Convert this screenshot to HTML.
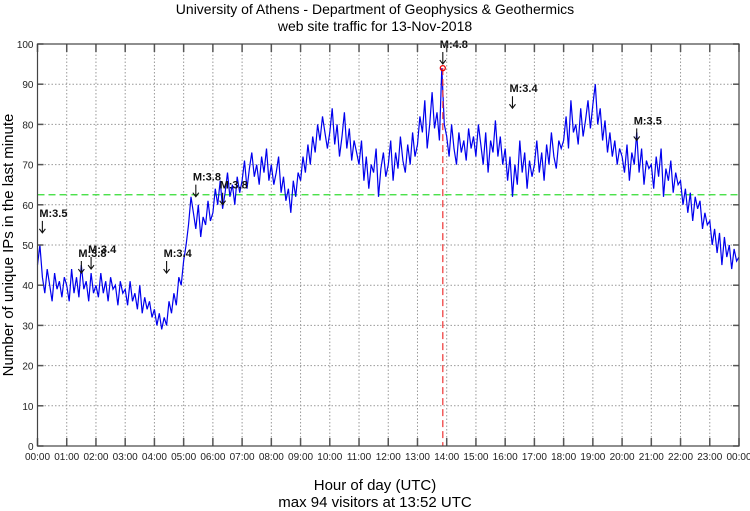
<!DOCTYPE html>
<html><head><meta charset="utf-8"><style>
body{margin:0;background:#fff;}
svg{display:block;font-family:"Liberation Sans",sans-serif;}
</style></head><body>
<svg id="chart" width="750" height="511" viewBox="0 0 750 511" xmlns="http://www.w3.org/2000/svg">
<text x="375" y="14" text-anchor="middle" font-size="14">University of Athens - Department of Geophysics &amp; Geothermics</text>
<text x="375" y="31" text-anchor="middle" font-size="14">web site traffic for 13-Nov-2018</text>
<text x="375" y="490" text-anchor="middle" font-size="15">Hour of day (UTC)</text>
<text x="375" y="507" text-anchor="middle" font-size="15">max 94 visitors at 13:52 UTC</text>
<text transform="translate(13,245) rotate(-90)" text-anchor="middle" font-size="15">Number of unique IPs in the last minute</text>
<g id="grid"></g><g id="series"></g><g id="marks"></g><g id="axes"></g>
</svg>
<script>
const yTicks=[0,10,20,30,40,50,60,70,80,90,100];
const xTickLabels=["00:00","01:00","02:00","03:00","04:00","05:00","06:00","07:00","08:00","09:00","10:00","11:00","12:00","13:00","14:00","15:00","16:00","17:00","18:00","19:00","20:00","21:00","22:00","23:00","00:00"];
const visitors=[45,50,42,38,44,40,36,43,39,41,37,42,
40,36,44,38,42,37,45,39,41,36,43,38,
40,37,43,38,41,36,42,39,40,35,41,38,
39,35,41,36,38,34,40,33,37,34,36,32,
34,30,33,29,32,30,36,33,38,35,42,40,
46,50,55,62,58,54,60,52,57,55,61,56,
58,64,60,66,59,63,68,62,65,60,67,63,
66,71,64,69,73,67,70,65,72,68,74,66,
70,65,68,72,63,67,61,64,58,66,62,68,
66,72,68,75,70,77,73,80,76,82,78,74,
78,84,75,80,72,77,83,74,79,71,76,73,
70,76,66,72,64,70,68,74,62,69,73,67,
70,76,66,73,69,77,71,68,75,70,78,72,
75,82,78,86,74,80,88,79,83,76,94,80,
77,72,80,74,70,78,73,76,71,79,74,77,
72,80,75,70,78,68,76,73,81,72,77,70,
74,66,72,62,70,65,76,68,73,64,71,67,
70,76,68,73,66,75,70,78,72,69,76,74,
76,82,74,86,78,80,75,84,77,81,86,79,
85,90,80,84,76,81,73,78,72,76,70,74,
72,68,75,66,73,70,78,68,74,65,71,69,
70,64,72,67,74,62,69,66,71,63,68,65,
66,60,64,58,63,56,62,59,61,54,58,55,
56,50,54,48,53,45,52,47,50,44,49,46,47];
const sampleMinutes=5;
const averageLevel=62.5;
const maxValue=94, maxMinute=832;
const quakeLabels=["M:3.5","M:3.8","M:3.4","M:3.4","M:3.8","M:3.8","M:4.8","M:3.4","M:3.5"];
const quakeMinutes=[10,90,110,265,325,380,832,975,1230];
const quakeLevels=[57,47,48,47,66,64,99,88,80];

const L=37.5,R=739,T=44,B=446,NS="http://www.w3.org/2000/svg";
const xs=m=>L+(R-L)*m/1440, ys=v=>B-(B-T)*v/100;
function mk(tag,attrs,parent){const e=document.createElementNS(NS,tag);for(const k in attrs)e.setAttribute(k,attrs[k]);parent.appendChild(e);return e;}
const grid=document.getElementById('grid'),axes=document.getElementById('axes'),series=document.getElementById('series'),marks=document.getElementById('marks');
yTicks.forEach(v=>{
  const y=ys(v);
  if(v>0){const g=mk('line',{x1:L,x2:R,y1:y,y2:y,stroke:'#999','stroke-width':1,'stroke-dasharray':'1.5,2'},grid);
  
  }
  mk('line',{x1:L,x2:L+6,y1:y,y2:y,stroke:'#555','stroke-width':1.5},axes);
  mk('line',{x1:R-6,x2:R,y1:y,y2:y,stroke:'#555','stroke-width':1.5},axes);
  const t=mk('text',{x:L-4,y:y+4,'text-anchor':'end','font-size':10,fill:'#222'},axes);t.textContent=v;
  
  
});
xTickLabels.forEach((s,i)=>{
  const x=xs(i*60);
  if(i>0&&i<24){const g=mk('line',{x1:x,x2:x,y1:T,y2:B,stroke:'#999','stroke-width':1,'stroke-dasharray':'1.5,2'},grid);
  
  }
  mk('line',{x1:x,x2:x,y1:B,y2:B-8,stroke:'#555','stroke-width':1.5},axes);
  mk('line',{x1:x,x2:x,y1:T,y2:T+8,stroke:'#555','stroke-width':1.5},axes);
  const t=mk('text',{x:x,y:B+14,'text-anchor':'middle','font-size':10,fill:'#222'},axes);t.textContent=s;
  
  
});
const frame=mk('rect',{x:L,y:T,width:R-L,height:B-T,fill:'none',stroke:'#444','stroke-width':1.2},axes);


const avg=mk('line',{x1:L,x2:R,y1:ys(averageLevel),y2:ys(averageLevel),stroke:'#33dd33','stroke-width':1.2,'stroke-dasharray':'7,4'},series);


const pts=visitors.map((v,i)=>xs(i*sampleMinutes).toFixed(1)+','+ys(v).toFixed(1)).join(' ');
const line=mk('polyline',{points:pts,fill:'none',stroke:'#0000ee','stroke-width':1.2},series);


const mx=xs(maxMinute);
const vl=mk('line',{x1:mx,x2:mx,y1:ys(maxValue),y2:B,stroke:'#ee3333','stroke-width':1.2,'stroke-dasharray':'7,4'},marks);


const dot=mk('circle',{cx:mx,cy:ys(maxValue),r:2.5,fill:'none',stroke:'#ee0000','stroke-width':1.3},marks);


quakeLabels.forEach((s,i)=>{
  const x=xs(quakeMinutes[i]),y=ys(quakeLevels[i]);
  const t=mk('text',{x:x-3,y:y,'font-size':11,'font-weight':'bold',fill:'#111'},marks);t.textContent=s;
  
  
  const a=mk('path',{d:`M${x},${y+4}V${y+16}M${x-3},${y+12}L${x},${y+16}L${x+3},${y+12}`,fill:'none',stroke:'#111','stroke-width':1.1},marks);
  
  
});
</script>
</body></html>
